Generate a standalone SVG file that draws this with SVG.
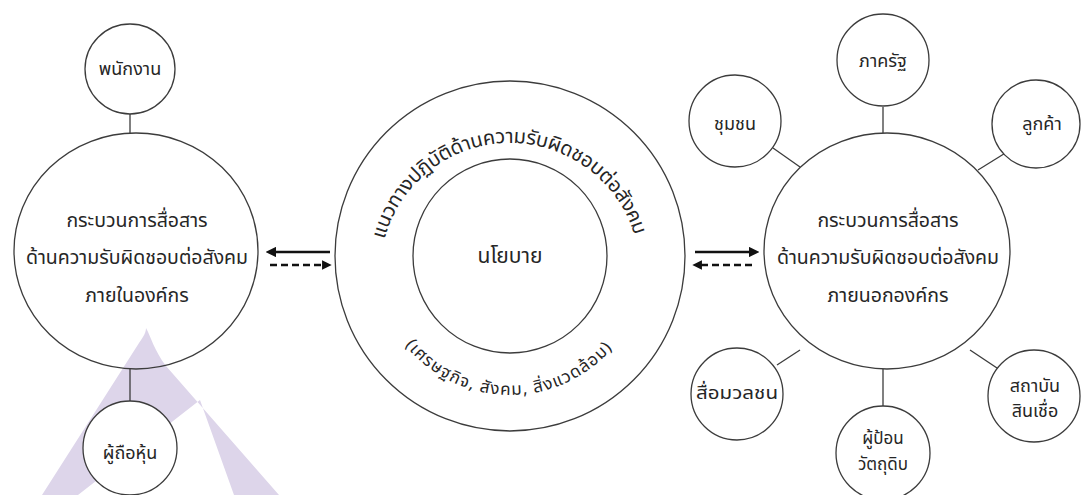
<svg xmlns="http://www.w3.org/2000/svg" width="1082" height="495" viewBox="0 0 1082 495">
<defs>
<style>
.c{fill:none;stroke:#3c3c3c;stroke-width:1.3}
.s{fill:#ffffff;stroke:#3c3c3c;stroke-width:1.3}
.ln{stroke:#3c3c3c;stroke-width:1.3}
.t{font-family:"Noto Sans Thai","Noto Sans",sans-serif;fill:#262626;text-anchor:middle}
.big{font-size:19.5px}
.sm{font-size:18px}
.arc{font-family:"Noto Sans Thai","Noto Sans",sans-serif;fill:#262626}
.ar{stroke:#111;stroke-width:2.6;fill:none}
.da{stroke:#111;stroke-width:2.4;fill:none;stroke-dasharray:7 4}
</style>
<marker id="ah" viewBox="0 0 10 10" refX="2" refY="5" markerWidth="4" markerHeight="4" orient="auto">
<path d="M0,0 L10,5 L0,10 Z" fill="#111"/>
</marker>
<path id="topArc" d="M384.4,239.4 A130,130 0 0 1 635.6,239.4"/>
<path id="botArc" d="M405.1,345 A135,135 0 0 0 614.9,345"/>
</defs>
<rect width="1082" height="495" fill="#ffffff"/>
<g id="watermark">
<path d="M146,328 C151,337 154,350 166,366 L279,495 L234,495 L200,400 L78,495 L42,495 L139,343 C144,336 146,332 146,328 Z" fill="#ddd5ea"/>
</g>
<g id="connectors">
<line class="ln" x1="130" y1="114" x2="130" y2="134"/>
<line class="ln" x1="130" y1="369" x2="130" y2="401"/>
<line class="ln" x1="883" y1="107" x2="883" y2="133"/>
<line class="ln" x1="773" y1="148" x2="800" y2="167"/>
<line class="ln" x1="1007" y1="152" x2="978" y2="170"/>
<line class="ln" x1="777" y1="365" x2="800" y2="350"/>
<line class="ln" x1="883" y1="369" x2="883" y2="406"/>
<line class="ln" x1="970" y1="350" x2="997" y2="368"/>
<line class="ar" x1="330" y1="252" x2="274" y2="252" marker-end="url(#ah)"/>
<line class="da" x1="270" y1="265" x2="324" y2="265" marker-end="url(#ah)"/>
<line class="ar" x1="695" y1="252" x2="751" y2="252" marker-end="url(#ah)"/>
<line class="da" x1="752" y1="265" x2="700" y2="265" marker-end="url(#ah)"/>
</g>
<g id="internal">
<ellipse class="c" cx="136" cy="251" rx="122" ry="118"/>
<text class="t big" x="137" y="227">กระบวนการสื่อสาร</text>
<text class="t big" x="137" y="264">ด้านความรับผิดชอบต่อสังคม</text>
<text class="t big" x="137" y="302">ภายในองค์กร</text>
</g>
<g id="employee">
<circle class="s" cx="130" cy="69" r="45"/>
<text class="t sm" x="130" y="75">พนักงาน</text>
</g>
<g id="shareholder">
<circle class="s" cx="130" cy="448" r="47"/>
<text class="t sm" x="130" y="459">ผู้ถือหุ้น</text>
</g>
<g id="policy">
<circle class="c" cx="510" cy="256" r="175"/>
<circle class="c" cx="510" cy="256" r="97"/>
<text class="t" style="font-size:21px" x="510" y="263">นโยบาย</text>
<text class="arc" style="font-size:20px"><textPath href="#topArc" textLength="336" lengthAdjust="spacing" startOffset="0">แนวทางปฏิบัติด้านความรับผิดชอบต่อสังคม</textPath></text>
<text class="arc" style="font-size:17px"><textPath href="#botArc" textLength="236" lengthAdjust="spacing" startOffset="0">(เศรษฐกิจ, สังคม, สิ่งแวดล้อม)</textPath></text>
</g>
<g id="external">
<ellipse class="c" cx="887" cy="251" rx="123" ry="118"/>
<text class="t big" x="888" y="227">กระบวนการสื่อสาร</text>
<text class="t big" x="888" y="264">ด้านความรับผิดชอบต่อสังคม</text>
<text class="t big" x="888" y="302">ภายนอกองค์กร</text>
</g>
<g id="government">
<circle class="s" cx="883" cy="60" r="46"/>
<text class="t sm" x="883" y="67">ภาครัฐ</text>
</g>
<g id="community">
<circle class="s" cx="735" cy="121" r="46"/>
<text class="t sm" x="735" y="130">ชุมชน</text>
</g>
<g id="customer">
<circle class="s" cx="1036" cy="124" r="44"/>
<text class="t sm" x="1042" y="130">ลูกค้า</text>
</g>
<g id="media">
<circle class="s" cx="737" cy="394" r="46"/>
<text class="t sm" x="737" y="399" textLength="82" lengthAdjust="spacingAndGlyphs">สื่อมวลชน</text>
</g>
<g id="supplier">
<circle class="s" cx="883" cy="453" r="47"/>
<text class="t" style="font-size:17px" x="883" y="444">ผู้ป้อน</text>
<text class="t" style="font-size:17px" x="883" y="470">วัตถุดิบ</text>
</g>
<g id="creditor">
<circle class="s" cx="1034" cy="396" r="46"/>
<text class="t sm" x="1035" y="392">สถาบัน</text>
<text class="t sm" x="1035" y="417">สินเชื่อ</text>
</g>
</svg>
